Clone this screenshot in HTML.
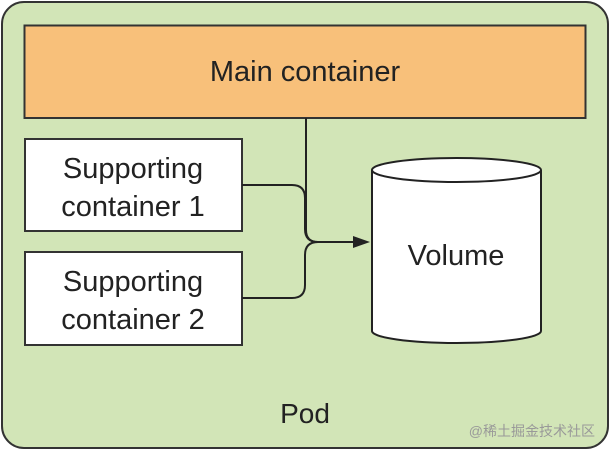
<!DOCTYPE html>
<html><head><style>
body{margin:0;background:#fff}
svg{display:block}
text{font-family:"Liberation Sans",Arial,sans-serif;fill:#222}
</style></head><body>
<svg width="610" height="450" viewBox="0 0 610 450">
<rect x="2" y="2" width="606" height="446" rx="22" fill="#d2e5b7" stroke="#333" stroke-width="2"/>
<rect x="24.5" y="25.5" width="561" height="92.5" fill="#f8c07a" stroke="#333" stroke-width="2"/>
<text x="305" y="81" font-size="29" text-anchor="middle">Main container</text>
<rect x="25" y="139" width="217" height="92" fill="#fff" stroke="#333" stroke-width="2"/>
<text x="133" y="178" font-size="29" text-anchor="middle">Supporting</text>
<text x="133" y="216" font-size="29" text-anchor="middle">container 1</text>
<rect x="25" y="252" width="217" height="93" fill="#fff" stroke="#333" stroke-width="2"/>
<text x="133" y="291" font-size="29" text-anchor="middle">Supporting</text>
<text x="133" y="329" font-size="29" text-anchor="middle">container 2</text>
<g fill="none" stroke="#222" stroke-width="2">
<path d="M306 118 V230 Q306 242 318 242 H356"/>
<path d="M242 185 H292 Q305 185 305 198 V229 Q305 242 318 242"/>
<path d="M242 298 H292 Q305 298 305 285 V255 Q305 242 318 242"/>
</g>
<path d="M370 242 L353 236 L353 248 Z" fill="#222"/>
<path d="M372 170 V331 A84.5 12 0 0 0 541 331 V170" fill="#fff" stroke="#222" stroke-width="2"/>
<ellipse cx="456.5" cy="170" rx="84.5" ry="12" fill="#fff" stroke="#222" stroke-width="2"/>
<text x="456" y="265" font-size="29" text-anchor="middle">Volume</text>
<text x="305" y="423" font-size="28" text-anchor="middle">Pod</text>
<text x="595" y="436" font-size="14" text-anchor="end" style="fill:#999;font-family:'Liberation Sans','Noto Sans CJK SC',sans-serif">@稀土掘金技术社区</text>
</svg>
</body></html>
